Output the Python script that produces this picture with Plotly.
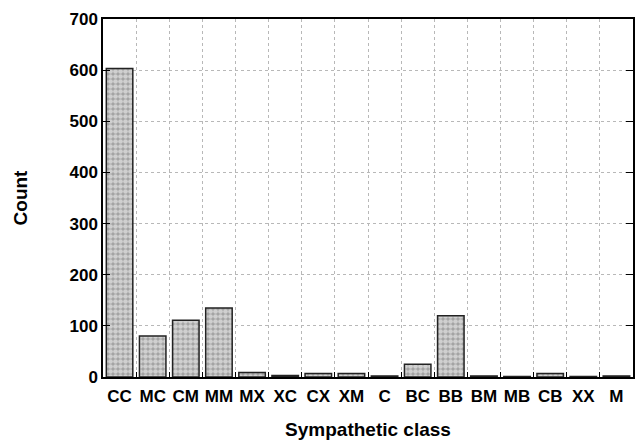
import plotly.graph_objects as go

categories = ["CC", "MC", "CM", "MM", "MX", "XC", "CX", "XM", "C", "BC", "BB", "BM", "MB", "CB", "XX", "M"]
counts = [603, 80, 111, 135, 9, 3, 7, 7, 2, 25, 120, 2, 1, 7, 1, 2]
y_ticks = [0, 100, 200, 300, 400, 500, 600, 700]

fig = go.Figure(go.Bar(
    x=categories, y=counts, width=0.8,
    marker=dict(
        color="#b0b0b0",
        line=dict(color="#222222", width=1.5),
        pattern=dict(shape=".", fgcolor="#ffffff", bgcolor="#a0a0a0", size=5, solidity=0.7),
    ),
))

font_family = "Liberation Sans, Arial, sans-serif"
fig.update_layout(
    width=636, height=442,
    margin=dict(l=103, r=3, t=19, b=65, autoexpand=False),
    plot_bgcolor="white", paper_bgcolor="white",
    font=dict(family=font_family, size=17, color="black"),
    showlegend=False,
    bargap=0.2,
)
fig.update_xaxes(
    title=dict(text="<b>Sympathetic class</b>", font=dict(size=19), standoff=18),
    tickfont=dict(size=17), tickprefix="<b>", ticksuffix="</b>", tickangle=0,
    ticklabelstandoff=3, automargin=False,
    tickson="boundaries", ticks="inside", ticklen=5, tickcolor="black",
    showgrid=True, gridcolor="#b8b8b8", griddash="3px,3px", gridwidth=1,
    showline=True, linecolor="black", linewidth=1.5, mirror=True,
)
fig.update_yaxes(
    title=dict(text="<b>Count</b>", font=dict(size=19), standoff=37),
    range=[0, 700], tickvals=y_ticks, ticktext=[f"<b>{v}</b>" for v in y_ticks],
    tickfont=dict(size=17), automargin=False,
    ticks="inside", ticklen=7, tickcolor="black",
    showgrid=True, gridcolor="#b8b8b8", griddash="3px,3px", gridwidth=1,
    showline=True, linecolor="black", linewidth=1.5, mirror="ticks",
    zeroline=False,
)
fig.write_html("out.html")
